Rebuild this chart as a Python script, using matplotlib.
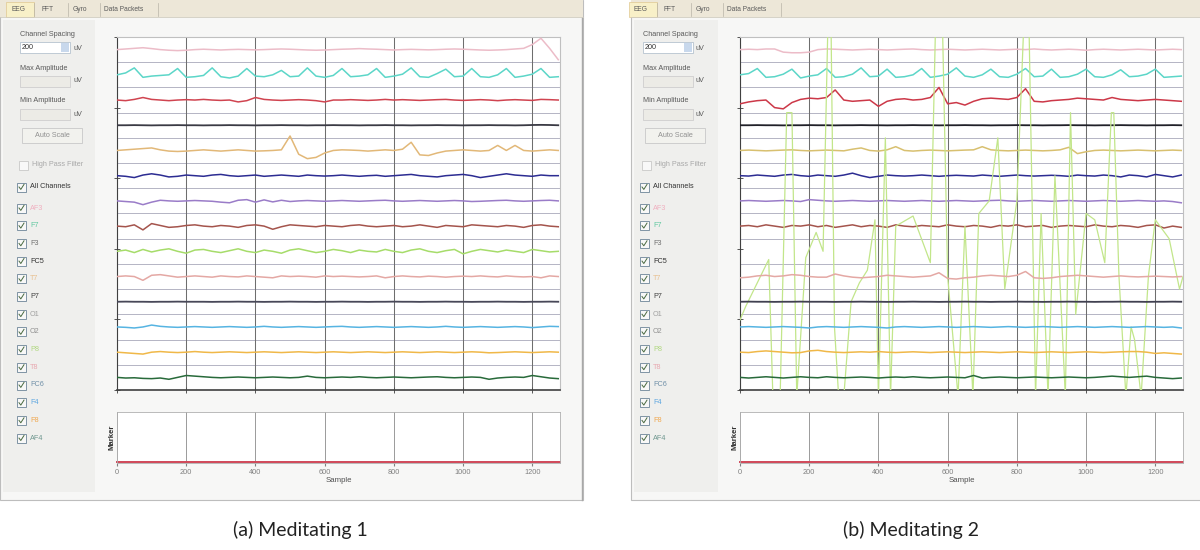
import matplotlib
matplotlib.use('Agg')
import matplotlib.pyplot as plt
from matplotlib.patches import Rectangle

W, H = 1200, 550

# samples every 25 points, 0 .. 1275
sample = list(range(0, 1300, 25))
channels = ['AF3', 'F7', 'F3', 'FC5', 'T7', 'P7', 'O1', 'O2', 'P8', 'T8', 'FC6', 'F4', 'F8', 'AF4']
tick_samples = [0, 200, 400, 600, 800, 1000, 1200]
spacing_uv = 200

# ---- (a) Meditating 1, offsets in uV from each channel baseline ----
a_af3 = [0, 5, 10, 15, 8, 0, -5, -8, -5, 0, 3, 0, -3, 0, 2, 0, -2, 0, 3, 5,
         3, 0, -3, -5, -3, 0, 3, 5, 8, 5, 3, 0, -3, 0, 2, 0, -2, 0, 3, 5,
         3, 0, -3, -5, -3, 0, 5, 10, 40, 90, 10, -80]
a_f7 = [0, 15, 55, -20, -10, -5, 0, 50, -20, -15, -5, 55, -15, -25, -10, 50, -10, -15, 0, 35,
        -15, -10, 55, -10, -20, -5, 50, -15, -10, 0, 50, -20, -10, 5, 55, -15, -20, 10, 45, -15,
        -10, 50, -15, -20, 0, 50, -20, -10, 5, 50, -20, -15]
a_f3 = [0, -5, 5, 20, 5, 0, -5, 0, 3, 0, 5, 0, -3, 0, -15, -5, 20, 5, 0, -3,
        0, 3, 0, -5, -15, 0, 0, 3, 0, -3, 0, 5, 0, 3, 0, -3, 0, 3, 5, 0,
        -3, 0, 3, 0, -5, 0, 3, 0, -3, 5, 3, 0]
a_fc5 = [0, 0, 1, 0, -1, 0, 0, 1, 0, 0, -1, 0, 0, 1, 0, 0, -1, 0, 0, 1,
         0, 0, -1, 0, 0, 1, 0, 0, -1, 0, 0, 1, 0, 0, -1, 0, 0, 1, 0, 0,
         -1, 0, 0, 1, 0, 0, -1, 0, 2, 3, 2, 0]
a_t7 = [0, 5, 10, 15, 20, 5, -5, -8, -5, 0, 5, 0, -5, 0, 5, 0, -5, -3, 0, 5,
        115, -30, -65, -55, -20, 0, 5, 3, 0, -5, 0, 5, 0, 10, 65, -35, -40, -20, -5, 0,
        5, 0, -5, 0, 40, 0, 40, 0, -5, 0, 5, 0]
a_p7 = [0, -5, -15, 5, 15, 5, -10, -5, 5, 0, -5, 5, 10, 0, -5, 0, 5, -5, 0, 5,
        0, -5, 5, 0, -3, 0, 5, 0, -5, 0, 3, -5, 0, 5, 10, 0, -5, -10, 0, 5,
        10, 0, -15, -5, 5, 15, 5, 0, -5, 5, 0, 0]
a_o1 = [0, -5, -10, -30, -10, 5, 0, -3, 0, 3, 0, -3, -10, -15, 5, 10, -10, 8, -8, 5,
        -5, 0, 3, 0, -3, 0, 3, 0, -3, 0, 3, 5, 0, -3, 0, 3, 0, -3, 0, 3,
        0, -5, -3, 0, 3, 5, 0, -3, 0, 3, 5, 0]
a_o2 = [0, -5, 10, -30, 20, 5, -10, -5, 5, 10, 0, -5, 5, 0, -10, 5, 10, 0, -25, -5,
        10, 5, 0, -5, 5, 0, -5, 5, 10, 0, -5, 0, 5, -5, 0, 10, 0, -10, 5, 0,
        -5, 10, 5, 0, -5, 5, 0, -10, 5, 10, 0, -5]
a_p8 = [0, 10, -10, 15, -5, 10, 20, 0, -15, 10, 15, 0, -10, 5, 20, 0, -10, 10, 0, -15,
        10, 20, 5, -10, 0, 15, 5, -10, 10, 0, -5, 15, 0, -10, 10, 20, 0, -10, 5, 15,
        -20, 0, 15, 5, -5, 10, 0, -10, 15, 5, -5, 0]
a_t8 = [0, 5, 0, -30, 10, 15, 5, -5, 0, 5, 0, -5, 5, 0, -3, 5, 0, -5, -10, 5,
        0, 3, 0, -5, 5, 0, 3, 0, -3, 0, 5, -10, 0, 5, 0, -3, 3, 0, -5, 0,
        3, 0, 5, 0, -3, 5, 0, -3, 0, -10, 5, 0]
a_fc6 = [0, 1, 0, 0, -1, 0, 0, 1, 0, 0, 0, -1, 0, 0, 1, 0, 0, -1, 0, 0,
         1, 0, 0, -1, 0, 0, 1, 0, 0, -1, 0, 0, 1, 0, 0, -1, 0, 0, 1, 0,
         0, -1, 0, 0, 1, 0, 0, -1, 0, 0, 1, 0]
a_f4 = [0, -3, -8, 0, 15, 5, 0, -3, 0, 3, 0, -3, 0, 3, 0, -3, 0, 5, 0, -3,
        0, 3, 0, -3, 0, 3, 5, 0, -3, 0, 3, 0, -3, 0, 3, 0, -3, 0, 5, 0,
        -3, 0, 3, 0, -3, 0, 3, 0, -5, 0, 5, 3]
a_f8 = [0, -5, -10, -15, 0, 5, 0, -3, 0, 5, 0, -3, 0, 3, 0, -3, 0, 3, 0, -3,
        0, 3, 0, -3, 0, 3, 0, -3, 0, 3, 0, -3, 0, 3, 0, -3, 0, 3, 0, -3,
        0, 3, 0, -5, -3, 0, 3, 0, -3, 0, 3, 0]
a_af4 = [0, -5, -3, -8, -10, -5, -15, 0, 15, 10, 5, 0, -3, 0, 3, 0, -3, 0, 3, 0,
         -3, 0, 10, 0, -3, 0, 3, 0, 5, 0, -3, 0, 3, 0, -3, 0, 3, 5, 0, -3,
         0, 3, 0, -15, -5, 0, 3, 0, 15, 5, -5, -10]

# ---- (b) Meditating 2 ----
b_af3 = [0, 3, 0, 5, 5, -20, -25, -25, -20, 0, 5, 3, 0, -3, 0, 3, 0, -3, 0, 3,
         5, 0, -3, 0, 3, 0, -3, 0, 3, 0, -3, 0, 3, 0, 5, 0, -3, 0, 3, 0,
         -5, 0, 3, 0, -3, 0, 3, 0, -3, 0, 3, 0]
b_f7 = [0, 10, 50, -20, -15, 5, 45, -25, -10, 0, 50, -20, -15, 5, 55, -15, -10, 45, -20, -15,
        0, 50, -20, -10, 5, 55, -10, -20, 0, 45, -15, -20, 5, 50, -15, -10, 45, -20, -15, 5,
        45, -15, -20, 0, 40, -15, -10, 5, 45, -20, -15, -10]
b_f3 = [-30, -15, -5, 0, -60, -70, -20, 5, 15, 10, 20, 80, 0, -10, -5, 0, -50, -10, 5, 10,
        0, 5, 20, 100, -30, -20, -40, -10, 10, 15, 10, 5, 20, 90, -10, -15, -5, 0, 5, 15,
        10, 5, 0, 20, 5, 0, -5, 0, 5, 0, -5, -10]
b_fc5 = [0, 0, 1, 0, 0, -1, 0, 0, 1, 0, 0, -1, 0, 0, 1, 0, 0, -1, 0, 0,
         1, 0, 0, -1, 0, 0, 1, 0, 0, -1, 0, 0, 1, 0, 0, -1, 0, 0, 1, 0,
         0, -1, 0, 0, 1, 0, 0, -1, 0, 0, 1, 0]
b_t7 = [0, 3, 0, -3, 0, 3, 5, 0, -3, 0, 3, 0, -3, 10, 20, 0, -5, 5, 30, 0,
        -5, 0, 3, 0, -3, 0, 3, 5, 30, 5, 0, -3, 0, 3, 0, -3, 0, 5, 25, -25,
        -10, 0, 3, 0, -3, 0, 3, 0, -3, 0, 3, 0]
b_p7 = [0, -3, 5, 0, -5, 5, 10, 0, -5, 5, 0, -5, 5, 20, 0, -15, -5, 5, 0, -3,
        0, 5, 0, -5, 0, 3, 0, -3, 5, 0, -5, 0, 5, 0, -3, 0, 3, 0, -5, 5,
        0, -3, 5, 0, -10, 5, 0, -10, 10, 0, -10, 5]
b_o1 = [0, 3, 0, -3, 0, 3, 0, -5, 10, 5, 0, -3, 0, 3, 0, -3, 0, 3, 0, -3,
        0, 3, 0, -3, 0, 3, 0, -3, 0, 3, 5, 0, -3, 0, 3, 0, -3, 0, 3, 0,
        -3, 0, 3, 0, -3, 0, 3, 0, -3, 0, -5, -15]
b_o2 = [0, 5, -5, 10, 0, -10, 5, 0, 10, -5, 5, -10, 0, 10, -5, 5, 0, -10, 10, 0,
        -5, 5, 0, -5, 10, 0, -5, 5, 0, -10, 5, 0, 10, -5, 0, 5, -10, 0, 5, 0,
        -5, 10, 0, -5, 5, 0, -10, 5, 10, -15, 0, -10]
# P8 in (b) swings far outside its lane, read at its turning points
b_p8_sample = [0, 16, 83, 95, 116, 135, 150, 164, 190, 220, 240, 254, 263, 273, 285, 300,
               321, 345, 368, 390, 400, 420, 435, 450, 500, 550, 565, 585, 600, 630,
               650, 673, 690, 720, 745, 765, 800, 820, 835, 854, 870, 890, 910, 940,
               955, 970, 1000, 1025, 1054, 1073, 1080, 1095, 1115, 1130, 1140, 1159,
               1180, 1200, 1240, 1270, 1280]
b_p8 = [-545, -440, -65, -1150, -1150, 1100, 1100, -1150, -50, 150, 0, 1800, 1800, -600, -1150, -1150,
        -400, -250, -150, 250, -1150, 900, -1150, 200, 280, -90, 1800, 1800, -200, -1150,
        200, -1150, 300, 400, 900, -300, 400, 1800, 1800, -1150, 300, -1150, 600, -1150,
        1100, -500, 300, 250, -90, 1100, 1100, -200, -1150, -600, -700, -1150,
        -200, 250, 100, -300, -200]
b_t8 = [-10, -5, 5, 10, 0, 5, 15, 10, 0, -5, -5, 20, 5, -5, -10, -5, 0, 10, 5, 0,
        -5, 0, 5, 30, -15, -20, -10, -5, 5, 10, 5, 0, 10, 40, -10, -15, -10, 0, 5, 10,
        5, 0, -5, 0, 5, 0, -3, 0, 3, 0, -3, 0]
b_fc6 = [0, 1, 0, 0, -1, 0, 0, 1, 0, 0, 0, -1, 0, 0, 1, 0, 0, -1, 0, 0,
         1, 0, 0, -1, 0, 0, 1, 0, 0, -1, 0, 0, 1, 0, 0, -1, 0, 0, 1, 0,
         0, -1, 0, 0, 1, 0, 0, -1, 0, 0, 1, 0]
b_f4 = [0, 3, 0, -3, 0, 3, 0, -3, -8, 0, 3, 0, -3, 0, 3, 0, -3, -8, 0, 3,
        0, -3, 0, 3, 0, -3, 0, 3, 0, -3, 0, 3, 0, -3, 0, 3, 0, -3, 0, 3,
        0, -3, 0, 3, 0, -3, 0, 3, 0, -3, 0, -8]
b_f8 = [0, -3, 5, 10, 5, 0, -5, -3, 10, 15, 5, 0, -3, 0, 3, 0, 5, 0, -3, 0,
        3, 0, -3, 0, 3, 0, -3, 0, 3, 0, -3, 0, 3, 0, -3, 0, 3, 0, -3, 0,
        3, 0, -3, 0, 3, 5, 5, 0, -10, -5, -10, -15]
b_af4 = [0, -5, 0, 5, 0, -5, 0, 5, 0, -3, 5, 0, -3, 0, 3, 0, -5, 0, 3, 0,
         5, 0, -3, 0, 3, 0, -3, 15, -5, 0, 3, 0, -3, 0, 3, 0, -3, 0, 3, 0,
         -3, 0, 5, 10, 5, 0, 5, 10, 0, -5, -10, -5]

traces_a = [a_af3, a_f7, a_f3, a_fc5, a_t7, a_p7, a_o1, a_o2, a_p8, a_t8, a_fc6, a_f4, a_f8, a_af4]
traces_b = [b_af3, b_f7, b_f3, b_fc5, b_t7, b_p7, b_o1, b_o2, b_p8, b_t8, b_fc6, b_f4, b_f8, b_af4]
xs_a = [sample] * 14
xs_b = [sample] * 8 + [b_p8_sample] + [sample] * 5

colors_a = ['#ecbcc8', '#5cd6c8', '#d04450', '#3a3a44', '#e2b878', '#2c2c92', '#9a7cc8',
            '#a4544c', '#a6dc6a', '#e4a8a4', '#484858', '#56b4e2', '#f0b848', '#286a3a']
colors_b = ['#ecbcc8', '#5cd6c8', '#cc3848', '#202028', '#d8c070', '#2c2c92', '#9a7cc8',
            '#a4544c', '#c2e68a', '#e4a8a4', '#404050', '#56b4e2', '#f0b848', '#286a3a']
label_colors = ['#f0b0c0', '#60c8a0', '#707070', '#303030', '#e8c090', '#404040', '#a0a0a0',
                '#909090', '#b0d880', '#e8a8b0', '#7090a8', '#60a8e0', '#f0a850', '#709890']

GUI = '#5a5a5a'
FONT = 'Liberation Sans'


def rect(x0, y0, x1, y1):
    return [x0 / W, 1 - y1 / H, (x1 - x0) / W, (y1 - y0) / H]


fig = plt.figure(figsize=(12, 5.5), dpi=100)
bg = fig.add_axes([0, 0, 1, 1])
bg.set_xlim(0, W)
bg.set_ylim(H, 0)
bg.axis('off')


def gui_text(x, y, s, color=GUI, size=5.2, **kw):
    bg.text(x, y, s, fontsize=size, color=color, va='center', family=FONT, **kw)


def checkbox(x, y, grey=False):
    ec = '#c8c8c8' if grey else '#6c8498'
    bg.add_patch(Rectangle((x, y - 4.5), 9, 9, fc='#f8f8f8', ec=ec, lw=0.6))
    if not grey:
        bg.plot([x + 2, x + 3.8, x + 7], [y, y + 2.4, y - 2.6], color='#4a6a40', lw=0.7)


def draw_panel(ox, left, traces, xs, colors, caption, cap_x):
    # window frame
    bg.add_patch(Rectangle((left, 0), 583 + ox - left, 500, fc='#f7f7f6', ec='#bdbdbd', lw=0.8))
    bg.add_patch(Rectangle((left, 0), 583 + ox - left, 17, fc='#ede7d8', ec='none'))
    bg.plot([left, ox + 583], [17, 17], color='#d0ccc0', lw=0.6)
    bg.add_patch(Rectangle((ox + 6, 2), 28, 15, fc='#f8f0c8', ec='#e0c890', lw=0.5))
    for s, x0, x1 in [('EEG', 8, 34), ('FFT', 38, 68), ('Gyro', 70, 100), ('Data Packets', 101, 158)]:
        gui_text(ox + x0 + 3, 9.5, s, size=4.8)
        bg.plot([ox + x1, ox + x1], [3, 16], color='#b8b4a8', lw=0.5)
    bg.plot([ox + 582, ox + 582], [18, 500], color='#a8a8a8', lw=1.0)
    # control column
    bg.add_patch(Rectangle((left + 3, 20), ox + 95 - left - 3, 472, fc='#efefed', ec='none'))
    gui_text(ox + 20, 35, 'Channel Spacing')
    bg.add_patch(Rectangle((ox + 20, 42), 50, 11, fc='white', ec='#a8b8c8', lw=0.5))
    bg.add_patch(Rectangle((ox + 61, 43), 8, 9, fc='#c8d8ec', ec='none'))
    gui_text(ox + 22, 47.5, '200', color='#333')
    gui_text(ox + 73, 48, 'uV')
    for y, s in [(68, 'Max Amplitude'), (101, 'Min Amplitude')]:
        gui_text(ox + 20, y, s)
        bg.add_patch(Rectangle((ox + 20, y + 8), 50, 11, fc='#ecebe6', ec='#c8c8c8', lw=0.5))
        gui_text(ox + 73, y + 13, 'uV')
    bg.add_patch(Rectangle((ox + 22, 128), 60, 15, fc='#f2f2ee', ec='#c8c8c8', lw=0.6))
    gui_text(ox + 52, 135.5, 'Auto Scale', color='#909090', ha='center')
    checkbox(ox + 19, 165, grey=True)
    gui_text(ox + 32, 165, 'High Pass Filter', color='#a8a8a8')
    checkbox(ox + 17, 187)
    gui_text(ox + 30, 187, 'All Channels', color='#333')
    for i, name in enumerate(channels):
        y = 208 + i * 17.7
        checkbox(ox + 17, y)
        gui_text(ox + 30, y, name, color=label_colors[i])

    # main EEG axes
    ax = fig.add_axes(rect(ox + 117, 37, ox + 560, 390))
    ax.set_facecolor('white')
    n = len(channels)
    ax.set_xlim(0, 1280)
    ax.set_ylim(0, n * spacing_uv)
    for k in range(1, n):
        ax.axhline(k * spacing_uv, color='#b4b4c4', lw=0.7, zorder=1)
    for t in tick_samples:
        ax.axvline(t, color='#6e6e6e', lw=0.75, zorder=1)
    for i in range(n):
        base = (n - 1 - i) * spacing_uv + spacing_uv / 2
        lw = 1.3 if channels[i] in ('FC5', 'FC6') else 1.1
        if len(xs[i]) != len(sample):
            lw = 0.9
        ax.plot(xs[i], [base + v for v in traces[i]], color=colors[i], lw=lw, zorder=3)
    ax.set_xticks(tick_samples)
    ax.set_xticklabels([])
    ax.set_yticks([0, 560, 1120, 1680, 2240, 2800])
    ax.set_yticklabels([])
    ax.tick_params(direction='inout', length=4, width=0.7, colors='#555')
    for side in ('top', 'right'):
        ax.spines[side].set_color('#c0c0c0')
    ax.spines['left'].set_color('#404040')
    ax.spines['bottom'].set_color('#404040')
    ax.spines['bottom'].set_linewidth(1.2)

    # marker axes
    mk = fig.add_axes(rect(ox + 117, 412, ox + 560, 463))
    mk.set_xlim(0, 1280)
    mk.set_ylim(0, 1)
    for t in tick_samples:
        mk.axvline(t, color='#8a8a8a', lw=0.6)
    mk.plot([0, 1280], [0.02, 0.02], color='#d04858', lw=1.4, clip_on=False)
    mk.set_xticks(tick_samples)
    mk.set_xticklabels([str(t) for t in tick_samples], fontsize=5.3, color='#808080', family=FONT)
    mk.set_yticks([])
    mk.tick_params(axis='x', length=2, pad=2, colors='#808080')
    mk.set_xlabel('Sample', fontsize=5.6, color='#505050', family=FONT, labelpad=1)
    mk.set_ylabel('Marker', fontsize=5.6, color='#303030', family=FONT, fontweight='bold', labelpad=1)
    for s in mk.spines.values():
        s.set_color('#b0b0b0')
        s.set_linewidth(0.6)

    bg.text(cap_x, 530, caption, fontsize=14, color='#222', family='Lato', ha='center', va='center')


draw_panel(0, 0, traces_a, xs_a, colors_a, '(a) Meditating 1', 300)
draw_panel(623, 631, traces_b, xs_b, colors_b, '(b) Meditating 2', 911)

fig.savefig('out.png', dpi=100, facecolor='white')
